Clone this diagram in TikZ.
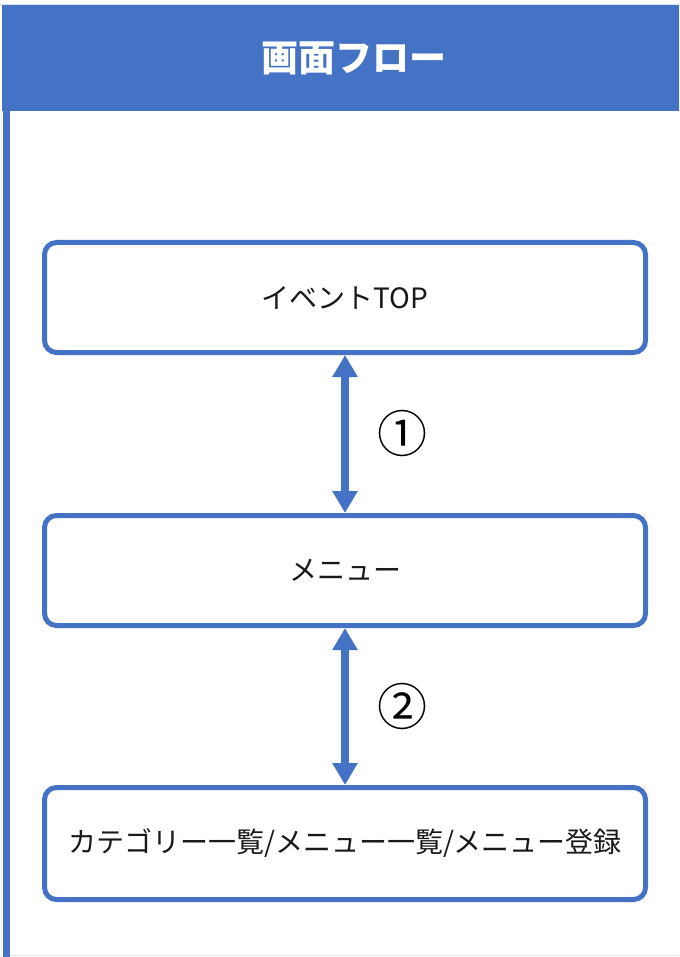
\documentclass[tikz,border=0pt]{standalone}
\usepackage{fontspec}
\setmainfont{Noto Sans CJK JP}
\usetikzlibrary{arrows.meta}
\definecolor{ofblue}{HTML}{4472C4}
\begin{document}
\begin{tikzpicture}[x=1pt,y=-1pt,
  box/.style={draw=ofblue, line width=5pt, rounded corners=12pt, fill=white,
    minimum width=601pt, minimum height=110pt, inner sep=0pt,
    font=\fontsize{28}{32}\selectfont, text=black!90},
  flowarrow/.style={draw=ofblue, line width=8pt,
    {Triangle[length=22pt,width=24pt]}-{Triangle[length=22pt,width=24pt]}},
  numlabel/.style={font=\fontsize{50}{54}\selectfont, text=black, inner sep=0pt}]
\useasboundingbox (0,0) rectangle (679,957);
\fill[white] (0,0) rectangle (679,957);
% frame
\draw[ofblue!20, line width=1pt] (0,4.5) -- (679,4.5);
\draw[ofblue!15, line width=1.5pt] (0,955.5) -- (679,955.5);
\fill[ofblue] (2,5) rectangle (679,111);
\fill[ofblue] (3,111) rectangle (9.5,957);
\node[text=white, font=\fontsize{37}{42}\selectfont\bfseries] (title) at (354,58) {画面フロー};
% boxes
\node[box] (top) at (345,297.5) {イベントTOP};
\node[box] (menu) at (345,570.5) {メニュー};
\node[box, minimum height=112pt] (cat) at (345,843.5) {カテゴリー一覧/メニュー一覧/メニュー登録};
% arrows
\draw[flowarrow] (top.south) -- (menu.north);
\draw[flowarrow] (menu.south) -- (cat.north);
\node[numlabel] (n1) at (402,433) {①};
\node[numlabel] (n2) at (402,706) {②};
\end{tikzpicture}
\end{document}
